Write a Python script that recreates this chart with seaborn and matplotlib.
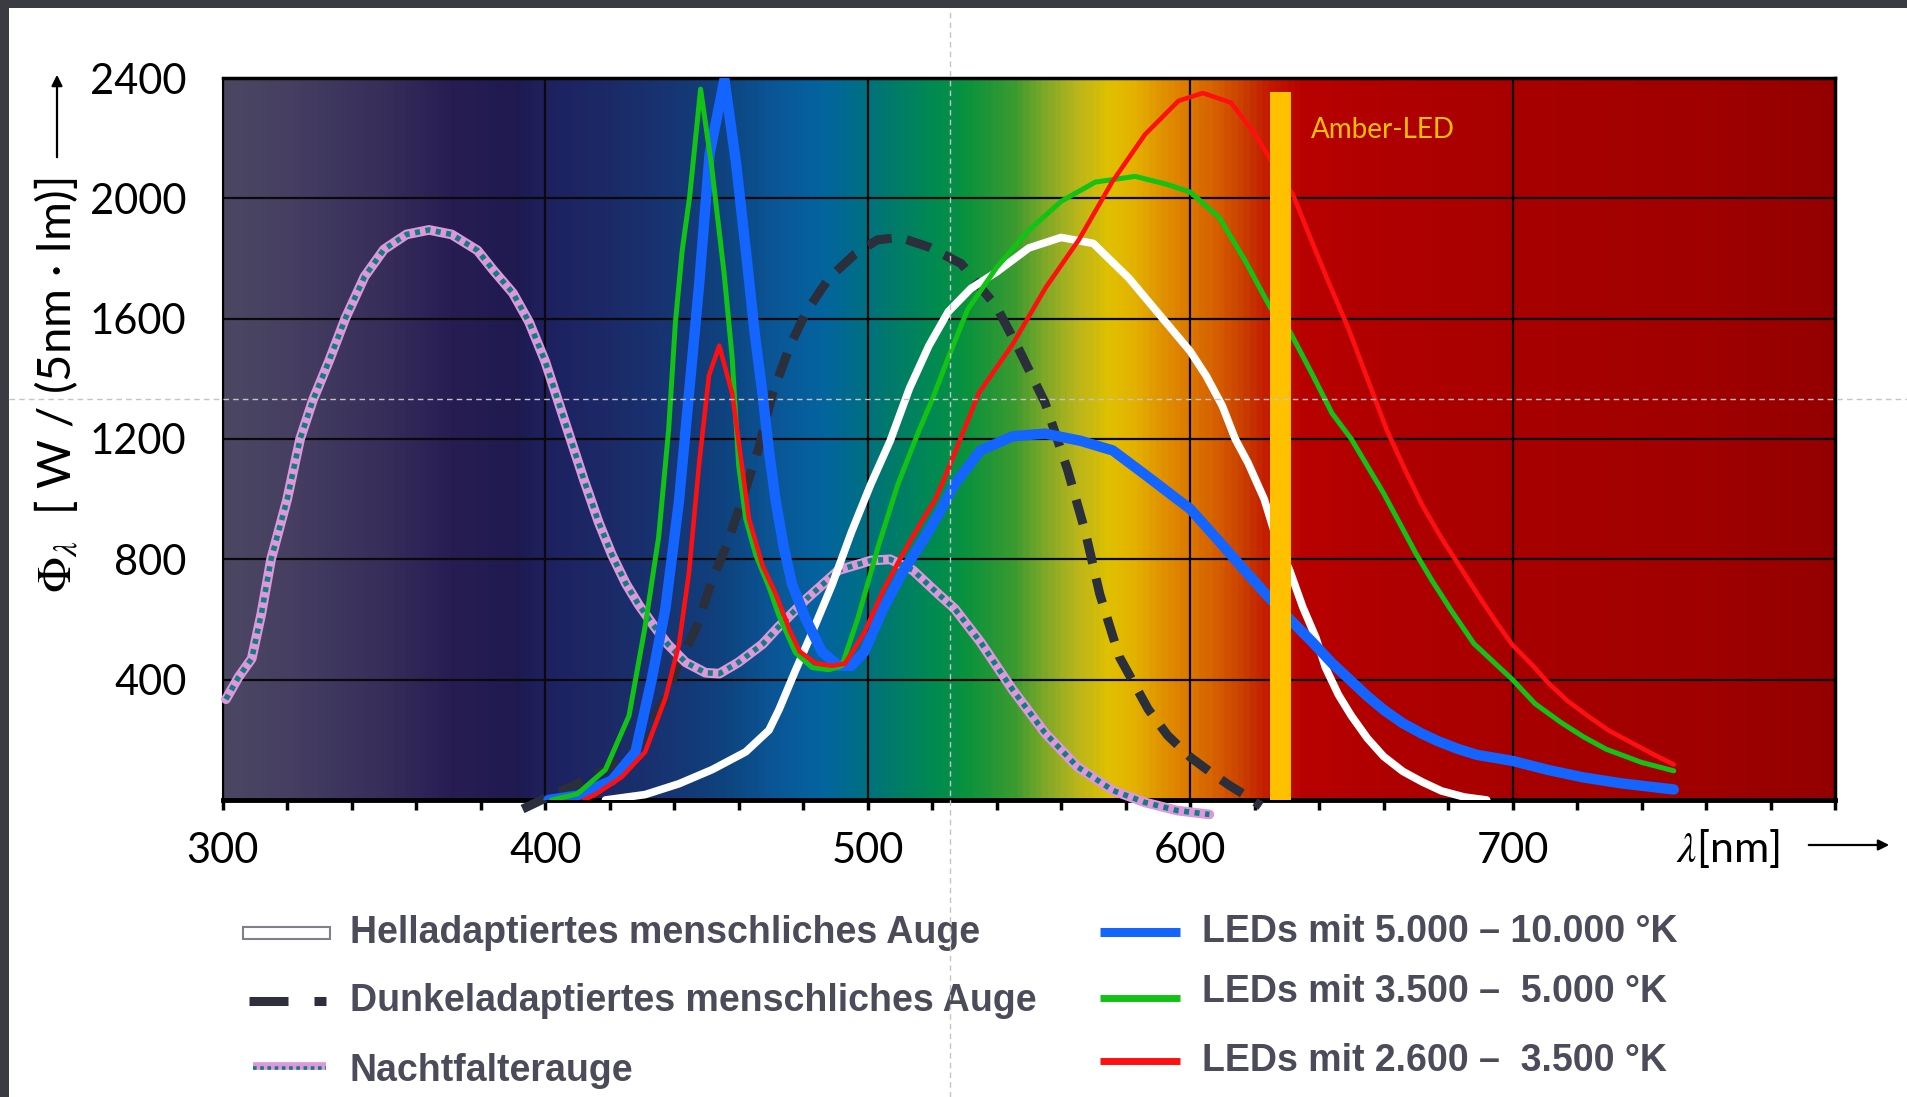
"""Spektrale Empfindlichkeit von Auge / Nachtfalter im Vergleich zu LED-Spektren."""
import numpy as np
import pandas as pd
import matplotlib
matplotlib.use("Agg")
import matplotlib.pyplot as plt
from matplotlib.colors import LinearSegmentedColormap
from matplotlib.patches import Rectangle
from matplotlib.lines import Line2D
import seaborn as sns

hell_nm = [418.7, 431, 441.5, 451.8, 462.2, 469.4, 472.5, 477.6, 482.8, 489, 495, 501, 507, 513, 519, 525,
           532, 540, 550, 560, 570, 581, 591, 600, 605, 610, 614, 618, 623, 627, 631, 635, 639, 642, 646,
           650, 655, 660, 666, 672, 678, 685, 692]
hell_wert = [0, 18, 54, 101, 160, 232, 300, 430, 557, 716, 891, 1050, 1194, 1369, 1510, 1623,
             1700, 1755, 1835, 1870, 1850, 1735, 1607, 1492, 1410, 1310, 1200, 1120, 1000, 860, 760, 640, 540, 440, 350,
             280, 205, 145, 95, 60, 30, 10, 0]

dunkel_nm = [393, 400, 410, 418.7, 429, 437.3, 441.5, 446.6, 451.8, 456, 461, 466.3, 470.5, 476, 481, 488,
             496, 503, 510, 519, 529, 540, 547, 555, 562, 567.5, 572, 578, 587, 593, 600, 606, 612, 618, 622]
dunkel_wert = [-30, 6, 54, 101, 185, 339, 458, 565, 732, 839, 994, 1173, 1351, 1512, 1623, 1735,
               1814, 1862, 1870, 1838, 1783, 1639, 1496, 1321, 1098, 891, 684, 477, 302, 215, 143, 95, 50, 10, -20]

falter_nm = [301, 305, 309, 312, 315, 320, 324, 328, 333, 338, 344, 350, 357, 364, 371, 379, 384, 390,
             395, 400, 404, 408, 412, 416.6, 420.7, 425, 429, 433, 438, 443.5, 449.7, 454, 460, 467.4, 472.5,
             481, 491, 501, 507, 514, 522, 527, 535, 545, 555, 565, 576, 586, 596, 606]
falter_wert = [335, 410, 470, 620, 800, 1000, 1200, 1330, 1460, 1600, 1740, 1830, 1880, 1895, 1880, 1827, 1760, 1685,
               1589, 1458, 1327, 1196, 1065, 923, 815, 720, 649, 589, 518, 458, 423, 420, 458, 518, 577,
               668, 764, 796, 800, 764, 684, 636, 525, 366, 223, 111, 32, -8, -35, -48]

blau_nm = [401, 410, 420.7, 428, 433, 437.3, 441.5, 444.6, 447.7, 451, 455.6, 459.2, 462.5, 465, 467.4,
           469.4, 471.5, 474, 476.6, 480.7, 485.8, 491, 495, 499, 505, 511, 517, 522, 527, 535, 545, 555,
           566, 576, 586, 596, 600, 609, 618, 625, 631, 638, 644, 650, 655, 660, 666, 672, 677, 683, 689,
           700, 711, 722, 734, 750]
blau_wert = [0, 15, 65, 160, 399, 637, 994, 1351, 1708, 2148, 2395, 2117, 1800, 1550, 1351,
             1160, 994, 840, 716, 605, 493, 446, 446, 493, 640, 760, 860, 950, 1050, 1162, 1209, 1218,
             1194, 1162, 1082, 1000, 968, 860, 750, 667, 600, 524, 455, 395, 345, 300, 255, 220, 195, 170, 150,
             130, 100, 75, 55, 35]

gruen_nm = [402, 410, 418.7, 426, 431, 435.2, 438.3, 440.4, 442.5, 444.8, 448.2, 451.5, 455.5, 458, 460,
            462.2, 465.3, 469.4, 472.5, 477.6, 482.8, 488, 492, 497, 503.3, 509.4, 516, 520, 525, 531, 540,
            550, 560, 570.6, 583, 593, 600, 609, 617, 625, 631, 638, 644, 650, 655, 660, 665, 670, 675, 681,
            688, 694, 700, 707, 715, 722, 729, 740, 750]
gruen_wert = [0, 20, 101, 280, 577, 875, 1232, 1589, 1827, 2005, 2363, 2117, 1750, 1470, 1113,
              935, 815, 708, 613, 490, 440, 433, 446, 605, 843, 1050, 1230, 1330, 1470, 1630, 1770,
              1894, 1990, 2054, 2073, 2046, 2021, 1937, 1794, 1635, 1556, 1413, 1286, 1200, 1110, 1020, 920, 820, 730, 630,
              520, 460, 400, 320, 258, 210, 169, 125, 97]

rot_nm = [412, 415.5, 423.8, 431, 437.3, 441.5, 444.6, 447.7, 450.8, 454, 458, 461, 463.2, 467.4, 471.5,
          476, 479, 484, 489, 493, 499, 505, 511, 517, 521, 525, 534.5, 544.8, 555.2, 565.5, 575.8, 586,
          596.4, 604, 612.7, 620.6, 625, 632, 638, 643, 649, 655, 661, 667, 672, 678, 684, 690, 695, 700,
          706, 711, 717, 723, 730, 737, 744, 750]
rot_wert = [0, 18, 77, 160, 339, 518, 756, 1113, 1411, 1510, 1351, 1113, 935, 780, 685,
            560, 493, 454, 446, 454, 557, 700, 820, 930, 1000, 1100, 1353, 1512, 1703, 1862, 2054, 2212,
            2324, 2350, 2318, 2206, 2127, 2010, 1850, 1720, 1570, 1400, 1230, 1090, 980, 870, 770, 670, 590, 515,
            450, 390, 330, 282, 230, 190, 150, 118]

# Amber-LED Balken
amber_band = [624.8, 631.4]
amber_hoehe = 2352

x_ticks = [300, 400, 500, 600, 700]
y_ticks = [400, 800, 1200, 1600, 2000, 2400]

legende_links = ["Helladaptiertes menschliches Auge", "Dunkeladaptiertes menschliches Auge", "Nachtfalterauge"]
legende_rechts = ["LEDs mit 5.000 – 10.000 °K", "LEDs mit 3.500 –  5.000 °K", "LEDs mit 2.600 –  3.500 °K"]

# --- Spektrum-Hintergrund ---
spektrum = [(300, "#4b4763"), (320, "#463f61"), (350, "#362d5a"), (370, "#281d53"), (390, "#1f1a50"),
            (400, "#1e2160"), (420, "#1c2a68"), (440, "#163674"), (455, "#0e437f"), (470, "#0b5595"),
            (485, "#0464a0"), (495, "#006c8c"), (505, "#00786f"), (520, "#008a52"), (530, "#09923e"),
            (545, "#3a9a30"), (555, "#80a828"), (565, "#bab61c"), (575, "#e0c000"), (583, "#e4b000"),
            (592, "#e09000"), (600, "#dc7800"), (610, "#d45800"), (618, "#c83800"), (625, "#c21800"),
            (635, "#b80200"), (660, "#b00000"), (700, "#a80000"), (760, "#a00000"), (800, "#940000")]

W, H = 1908, 1097
sns.set_theme(style="white")
plt.rcParams["font.family"] = ["Lato", "DejaVu Sans"]

fig = plt.figure(figsize=(W / 100, H / 100), dpi=100)
fig.patch.set_facecolor("white")
ax = fig.add_axes([222.7 / W, 1 - 800 / H, 1612.3 / W, 722 / H])

cmap = LinearSegmentedColormap.from_list("spektrum", [((n - 300) / 500, c) for n, c in spektrum])
ax.imshow(np.linspace(0, 1, 1200).reshape(1, -1), cmap=cmap, aspect="auto",
          extent=[300, 800, 0, 2400], zorder=0, interpolation="bilinear")


def kurve(x, y, **kw):
    kw.setdefault("solid_joinstyle", "round")
    sns.lineplot(x=x, y=y, ax=ax, estimator=None, legend=False, **kw)


kurve(dunkel_nm, dunkel_wert, color="#2b2e3b", linewidth=6.5, linestyle=(0, (2.8, 1.7)),
      dash_capstyle="butt", dash_joinstyle="round", clip_on=False, zorder=3)
kurve(falter_nm, falter_wert, color="#dc98da", linewidth=7, clip_on=False, zorder=3.2)
kurve(falter_nm, falter_wert, color="#137c80", linewidth=4, linestyle=(0, (0.9, 1.0)),
      clip_on=False, zorder=3.3)
kurve(hell_nm, hell_wert, color="white", linewidth=5.5, zorder=3.4)
kurve(blau_nm, blau_wert, color="#1464ff", linewidth=7.5, zorder=3.5)
kurve(gruen_nm, gruen_wert, color="#12c214", linewidth=3.6, zorder=3.6)
kurve(rot_nm, rot_wert, color="#ff1010", linewidth=3.3, zorder=3.7)

ax.fill_between(amber_band, 0, amber_hoehe, color="#ffc000", lw=0, zorder=5)
ax.text(637.5, 2226, "Amber-LED", color="#ffc000", fontsize=20, va="center", ha="left",
        family=["Lato", "DejaVu Sans"], zorder=6)

ax.set_xlim(300, 800)
ax.set_ylim(0, 2400)
ax.set_xlabel("")
ax.set_ylabel("")
ax.set_xticks(x_ticks)
ax.set_xticklabels([str(t) for t in x_ticks])
ax.set_xticks(np.arange(320, 801, 20), minor=True)
ax.set_yticks(y_ticks)
ax.set_yticklabels([str(t) for t in y_ticks])
ax.set_axisbelow(True)
ax.grid(True, which="major", color="#0a0a0a", linewidth=1.6)
ax.tick_params(axis="x", which="both", bottom=True, direction="out", length=7, width=2.5,
               color="black", pad=16, labelsize=30, labelcolor="black")
ax.tick_params(axis="y", which="both", left=False, length=0, pad=26, labelsize=30, labelcolor="black")
for s, lw in [("left", 1.5), ("top", 2.5), ("right", 2.5), ("bottom", 3.5)]:
    ax.spines[s].set_color("black")
    ax.spines[s].set_linewidth(lw)


def fx(px):
    return px / W


def fy(py):
    return 1 - py / H


# Achsenbeschriftungen mit Pfeilen
fig.text(fx(56), fy(385), r"$\Phi_\lambda$  [ W / (5nm · lm)]", rotation=90, fontsize=34,
         ha="center", va="center", math_fontfamily="stix", color="black")
ax.annotate("", xy=(57, H - 72), xytext=(57, H - 160), xycoords="figure pixels",
            textcoords="figure pixels",
            arrowprops=dict(arrowstyle="-|>", color="black", lw=1.6, mutation_scale=16))
fig.text(fx(1676), fy(848), r"$\lambda$[nm]", fontsize=31, ha="left", va="center",
         math_fontfamily="stix", color="black")
ax.annotate("", xy=(1892, H - 845), xytext=(1806, H - 845), xycoords="figure pixels",
            textcoords="figure pixels",
            arrowprops=dict(arrowstyle="-|>", color="black", lw=1.6, mutation_scale=16))

# Legende (von Hand, wie im Original zweispaltig)
txt = dict(fontsize=27, fontweight="bold", color="#4b4b5a", va="center", ha="left",
           family=["Liberation Sans", "DejaVu Sans"])
for label, py in zip(legende_links, [933, 1001, 1071]):
    fig.text(fx(350), fy(py), label, **txt)
for label, py in zip(legende_rechts, [932, 992, 1061]):
    fig.text(fx(1202), fy(py), label, **txt)

fig.add_artist(Rectangle((fx(243), fy(939)), fx(87), 12 / H, transform=fig.transFigure,
                         facecolor="white", edgecolor="#80808c", lw=1.5))
fig.add_artist(Line2D([fx(249), fx(288)], [fy(1001)] * 2, transform=fig.transFigure,
                      color="#2e2f3a", lw=6.5, solid_capstyle="butt"))
fig.add_artist(Line2D([fx(314), fx(326)], [fy(1001)] * 2, transform=fig.transFigure,
                      color="#2e2f3a", lw=6.5, solid_capstyle="butt"))
fig.add_artist(Line2D([fx(253), fx(326)], [fy(1066)] * 2, transform=fig.transFigure,
                      color="#dc98da", lw=5.5, solid_capstyle="butt"))
fig.add_artist(Line2D([fx(253), fx(326)], [fy(1068)] * 2, transform=fig.transFigure,
                      color="#137c80", lw=2.6, linestyle=(0, (1.0, 1.0))))
for col, py, lw in [("#1464ff", 932, 6.5), ("#12c214", 998, 5), ("#ff1010", 1061, 5)]:
    fig.add_artist(Line2D([fx(1100), fx(1180)], [fy(py)] * 2, transform=fig.transFigure,
                          color=col, lw=lw, solid_capstyle="butt"))

# Rahmen des Bildschirmfotos und Hilfslinien
fig.add_artist(Rectangle((0, fy(8)), 1, 8 / H, transform=fig.transFigure, color="#3b3b43", lw=0))
fig.add_artist(Rectangle((0, 0), fx(9), 1, transform=fig.transFigure, color="#3b3b43", lw=0))
fig.add_artist(Line2D([fx(950)] * 2, [0, fy(8)], transform=fig.transFigure, color="#c4c4c4",
                      lw=1, linestyle=(0, (4, 3)), zorder=20))
fig.add_artist(Line2D([fx(9), 1], [fy(399)] * 2, transform=fig.transFigure, color="#c4c4c4",
                      lw=1, linestyle=(0, (4, 3)), zorder=20))

fig.savefig("out.png", dpi=100)
